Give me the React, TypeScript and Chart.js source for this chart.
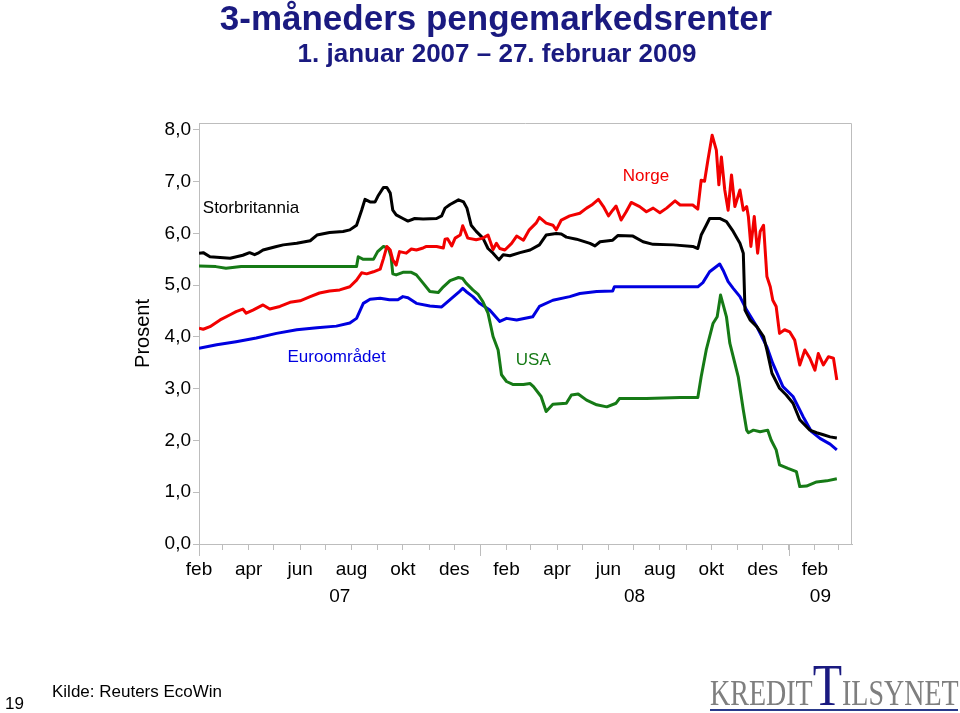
import React, { useEffect, useRef } from 'react';
import { Chart, registerables } from 'chart.js';

Chart.register(...registerables);

// x values are day offsets counted from 1 Feb 2007 (left edge of the plot)
const START_UTC = Date.UTC(2007, 1, 1);
const X_MAX_DAY = 775;

const MONTH_NAMES = ['jan', 'feb', 'mar', 'apr', 'mai', 'jun', 'jul', 'aug', 'sep', 'okt', 'nov', 'des'];
const YEARS = [2007, 2008, 2009];
const YEAR_LABELS = ['07', '08', '09'];
const Y_TICKS = [0, 1, 2, 3, 4, 5, 6, 7, 8];

// Norge (NIBOR 3m)
const NO_DAYS = [0, 5, 13, 25, 37, 44, 52, 56, 64, 76, 84, 96, 108, 120, 132, 143, 155, 167, 179, 187, 193, 199, 207, 215, 219, 223, 227, 230, 234, 238, 246, 252, 258, 266, 270, 282, 290, 292, 295, 300, 304, 310, 313, 319, 329, 337, 343, 349, 353, 357, 363, 371, 377, 385, 392, 400, 404, 412, 420, 424, 430, 440, 452, 460, 466, 474, 480, 486, 491, 495, 501, 507, 513, 523, 531, 539, 547, 555, 565, 571, 579, 586, 592, 596, 600, 604, 609, 614, 617, 620, 624, 628, 632, 636, 642, 646, 650, 652, 655, 659, 663, 666, 670, 674, 678, 681, 685, 689, 695, 701, 707, 713, 719, 725, 731, 735, 741, 747, 753, 757];
const NO_VALUES = [4.17, 4.15, 4.20, 4.33, 4.43, 4.49, 4.54, 4.46, 4.52, 4.62, 4.54, 4.59, 4.67, 4.70, 4.78, 4.85, 4.89, 4.91, 4.97, 5.10, 5.24, 5.22, 5.26, 5.31, 5.52, 5.75, 5.68, 5.49, 5.39, 5.65, 5.62, 5.70, 5.68, 5.72, 5.75, 5.75, 5.72, 5.89, 5.90, 5.76, 5.91, 5.97, 6.15, 5.91, 5.88, 5.91, 5.97, 5.69, 5.81, 5.71, 5.68, 5.81, 5.95, 5.87, 6.07, 6.20, 6.31, 6.20, 6.16, 6.07, 6.26, 6.34, 6.39, 6.49, 6.55, 6.66, 6.52, 6.34, 6.45, 6.53, 6.26, 6.42, 6.60, 6.52, 6.42, 6.49, 6.40, 6.49, 6.63, 6.55, 6.55, 6.55, 6.47, 7.03, 7.01, 7.42, 7.90, 7.61, 6.94, 7.48, 6.84, 6.45, 7.13, 6.52, 6.84, 6.45, 6.52, 6.33, 5.75, 6.33, 5.62, 6.04, 6.16, 5.17, 4.97, 4.71, 4.59, 4.07, 4.14, 4.10, 3.94, 3.46, 3.75, 3.59, 3.36, 3.68, 3.46, 3.62, 3.59, 3.17];

// Storbritannia
const UK_DAYS = [0, 5, 13, 21, 37, 52, 60, 66, 70, 76, 92, 100, 116, 132, 140, 155, 171, 179, 187, 193, 197, 203, 209, 213, 219, 223, 227, 230, 234, 242, 248, 256, 266, 282, 288, 292, 298, 308, 314, 318, 323, 329, 337, 343, 349, 356, 361, 369, 381, 393, 404, 412, 424, 430, 436, 448, 464, 470, 476, 491, 497, 515, 527, 539, 563, 586, 592, 596, 602, 606, 618, 626, 634, 642, 646, 648, 654, 662, 670, 674, 680, 689, 697, 705, 713, 725, 733, 741, 749, 757];
const UK_VALUES = [5.62, 5.63, 5.55, 5.54, 5.52, 5.58, 5.63, 5.59, 5.62, 5.68, 5.75, 5.78, 5.81, 5.86, 5.97, 6.02, 6.04, 6.07, 6.16, 6.45, 6.66, 6.61, 6.61, 6.74, 6.89, 6.89, 6.78, 6.45, 6.36, 6.29, 6.24, 6.29, 6.28, 6.29, 6.34, 6.49, 6.56, 6.65, 6.61, 6.49, 6.16, 6.04, 5.91, 5.71, 5.62, 5.49, 5.59, 5.57, 5.63, 5.68, 5.78, 5.97, 6.00, 5.99, 5.93, 5.89, 5.81, 5.76, 5.84, 5.87, 5.96, 5.95, 5.84, 5.79, 5.78, 5.75, 5.71, 5.97, 6.16, 6.29, 6.29, 6.23, 6.04, 5.81, 5.62, 4.52, 4.33, 4.20, 4.01, 3.75, 3.30, 3.01, 2.88, 2.72, 2.40, 2.20, 2.15, 2.11, 2.07, 2.05];

// USA
const US_DAYS = [0, 20, 32, 50, 100, 150, 187, 189, 195, 207, 212, 219, 225, 228, 230, 234, 242, 252, 258, 266, 274, 284, 290, 298, 308, 313, 317, 325, 331, 337, 343, 349, 355, 359, 365, 373, 385, 393, 397, 406, 412, 420, 436, 442, 450, 460, 472, 484, 495, 499, 531, 571, 592, 596, 602, 610, 615, 619, 626, 630, 636, 640, 646, 650, 652, 658, 666, 675, 679, 685, 689, 699, 709, 713, 721, 733, 745, 757];
const US_VALUES = [5.37, 5.36, 5.33, 5.36, 5.36, 5.36, 5.36, 5.55, 5.50, 5.50, 5.65, 5.75, 5.71, 5.55, 5.22, 5.20, 5.25, 5.25, 5.20, 5.04, 4.88, 4.86, 4.97, 5.09, 5.15, 5.13, 5.04, 4.91, 4.83, 4.68, 4.46, 4.01, 3.75, 3.27, 3.14, 3.08, 3.08, 3.10, 3.04, 2.85, 2.56, 2.70, 2.72, 2.88, 2.90, 2.78, 2.69, 2.65, 2.72, 2.81, 2.81, 2.83, 2.83, 3.23, 3.75, 4.26, 4.39, 4.81, 4.39, 3.88, 3.49, 3.23, 2.59, 2.20, 2.15, 2.20, 2.17, 2.20, 2.01, 1.82, 1.53, 1.46, 1.40, 1.11, 1.12, 1.20, 1.22, 1.26];

// Euroområdet
const EU_DAYS = [0, 21, 44, 68, 92, 116, 140, 163, 179, 187, 195, 203, 215, 226, 236, 242, 248, 258, 274, 288, 298, 308, 313, 317, 325, 333, 345, 357, 365, 377, 396, 404, 420, 440, 452, 472, 491, 493, 531, 571, 592, 598, 606, 618, 622, 628, 634, 642, 650, 662, 674, 681, 693, 705, 717, 727, 737, 749, 757];
const EU_VALUES = [3.78, 3.85, 3.91, 3.98, 4.07, 4.14, 4.18, 4.21, 4.27, 4.36, 4.65, 4.73, 4.75, 4.72, 4.72, 4.78, 4.76, 4.65, 4.60, 4.58, 4.72, 4.86, 4.94, 4.88, 4.78, 4.65, 4.52, 4.30, 4.36, 4.33, 4.39, 4.59, 4.71, 4.78, 4.84, 4.88, 4.89, 4.97, 4.97, 4.97, 4.97, 5.05, 5.26, 5.41, 5.29, 5.07, 4.94, 4.78, 4.52, 4.20, 3.81, 3.49, 3.04, 2.85, 2.46, 2.17, 2.04, 1.93, 1.82];

const FONT = "'Liberation Sans', Arial, Helvetica, sans-serif";
const SERIF = "'Liberation Serif', 'Times New Roman', serif";
const NAVY = '#1a1a80';
const AXIS_COLOR = '#bdbdbd';
const C_NO = '#f20000';
const C_UK = '#000000';
const C_US = '#167a16';
const C_EU = '#0000e0';

const SERIES_LABELS = [
  { text: 'Storbritannia', day: 4.5, value: 6.49, color: C_UK },
  { text: 'Norge', day: 503, value: 7.11, color: C_NO },
  { text: 'Euroområdet', day: 105, value: 3.61, color: C_EU },
  { text: 'USA', day: 376, value: 3.54, color: C_US },
];

const dayOf = (y: number, m: number, d = 1) => (Date.UTC(y, m, d) - START_UTC) / 86400000;

const MONTH_TICKS: { value: number; label: string }[] = [];
YEARS.forEach((y) => {
  for (let m = 0; m < 12; m++) {
    const v = dayOf(y, m);
    if (v >= 0 && v <= X_MAX_DAY) MONTH_TICKS.push({ value: v, label: m % 2 === 1 ? MONTH_NAMES[m] : '' });
  }
});

const pts = (days: number[], vals: number[]) => days.map((d, i) => ({ x: d, y: vals[i] }));

const decorPlugin = {
  id: 'decor',
  afterDraw(chart: any) {
    const { ctx, chartArea, scales } = chart;
    const x = scales.x;
    const y = scales.y;
    ctx.save();
    // top and right frame of the plot area
    ctx.strokeStyle = AXIS_COLOR;
    ctx.lineWidth = 1;
    ctx.beginPath();
    ctx.moveTo(Math.round(chartArea.left) + 0.5, Math.round(chartArea.top) + 0.5);
    ctx.lineTo(Math.round(chartArea.right) - 0.5, Math.round(chartArea.top) + 0.5);
    ctx.lineTo(Math.round(chartArea.right) - 0.5, Math.round(chartArea.bottom));
    ctx.stroke();
    // long ticks at year boundaries
    const bounds = [0, ...YEARS.slice(1).map((yr) => dayOf(yr, 0))];
    bounds.forEach((d) => {
      const px = Math.round(x.getPixelForValue(d)) + 0.5;
      ctx.beginPath();
      ctx.moveTo(px, chartArea.bottom);
      ctx.lineTo(px, chartArea.bottom + 12);
      ctx.stroke();
    });
    // year labels centred in each year's span
    ctx.fillStyle = '#000';
    ctx.font = `19px ${FONT}`;
    ctx.textAlign = 'center';
    ctx.textBaseline = 'alphabetic';
    YEARS.forEach((yr, i) => {
      const a = Math.max(0, dayOf(yr, 0));
      const b = Math.min(X_MAX_DAY, dayOf(yr + 1, 0));
      const px = x.getPixelForValue((a + b) / 2);
      ctx.fillText(YEAR_LABELS[i], px, chartArea.bottom + 58);
    });
    // series labels
    ctx.font = `17px ${FONT}`;
    ctx.textAlign = 'left';
    ctx.textBaseline = 'middle';
    SERIES_LABELS.forEach((l) => {
      ctx.fillStyle = l.color;
      ctx.fillText(l.text, x.getPixelForValue(l.day), y.getPixelForValue(l.value));
    });
    ctx.restore();
  },
};

export default function App() {
  const ref = useRef<HTMLCanvasElement>(null);

  useEffect(() => {
    document.body.style.margin = '0';
    const line = (data: any, color: string) => ({
      data,
      borderColor: color,
      backgroundColor: color,
      borderWidth: 3,
      pointRadius: 0,
      tension: 0,
      fill: false,
      borderJoinStyle: 'round' as const,
    });
    const chart = new Chart(ref.current as HTMLCanvasElement, {
      type: 'line',
      data: {
        datasets: [
          { label: 'Norge', ...line(pts(NO_DAYS, NO_VALUES), C_NO) },
          { label: 'Storbritannia', ...line(pts(UK_DAYS, UK_VALUES), C_UK) },
          { label: 'USA', ...line(pts(US_DAYS, US_VALUES), C_US) },
          { label: 'Euroområdet', ...line(pts(EU_DAYS, EU_VALUES), C_EU) },
        ],
      },
      options: {
        animation: false,
        responsive: false,
        maintainAspectRatio: false,
        layout: { padding: { left: 127, top: 123, right: 108, bottom: 0 } },
        plugins: { legend: { display: false }, tooltip: { enabled: false }, title: { display: false } },
        scales: {
          x: {
            type: 'linear',
            min: 0,
            max: X_MAX_DAY,
            afterBuildTicks: (s: any) => {
              s.ticks = MONTH_TICKS.map((t) => ({ value: t.value }));
            },
            afterFit: (s: any) => {
              s.height = 169;
            },
            ticks: {
              autoSkip: false,
              maxRotation: 0,
              minRotation: 0,
              padding: 8,
              color: '#000',
              font: { family: FONT, size: 19 },
              callback: (_v: any, i: number) => MONTH_TICKS[i]?.label ?? '',
            },
            grid: { drawOnChartArea: false, drawTicks: true, tickLength: 6, color: AXIS_COLOR },
            border: { color: AXIS_COLOR },
          },
          y: {
            type: 'linear',
            min: 0,
            max: 8.135,
            afterBuildTicks: (s: any) => {
              s.ticks = Y_TICKS.map((v) => ({ value: v }));
            },
            afterFit: (s: any) => {
              s.width = 72;
            },
            ticks: {
              padding: 2,
              color: '#000',
              font: { family: FONT, size: 19 },
              callback: (v: any) => Number(v).toFixed(1).replace('.', ','),
            },
            grid: { drawOnChartArea: false, drawTicks: true, tickLength: 6, color: AXIS_COLOR },
            border: { color: AXIS_COLOR },
            title: { display: true, text: 'Prosent', color: '#000', font: { family: FONT, size: 20 }, padding: { top: 4, bottom: 4 } },
          },
        },
      },
      plugins: [decorPlugin],
    });
    return () => chart.destroy();
  }, []);

  return (
    <div style={{ position: 'relative', width: 960, height: 713, overflow: 'hidden', background: '#fff', fontFamily: FONT }}>
      <canvas ref={ref} width={960} height={713} style={{ position: 'absolute', left: 0, top: 0, width: 960, height: 713 }} />
      <div style={{ position: 'absolute', left: 496, top: 0, transform: 'translateX(-50%)', whiteSpace: 'nowrap', color: NAVY, fontWeight: 'bold', fontSize: 35, lineHeight: 1 }}>
        3-måneders pengemarkedsrenter
      </div>
      <div style={{ position: 'absolute', left: 497, top: 40, transform: 'translateX(-50%)', whiteSpace: 'nowrap', color: NAVY, fontWeight: 'bold', fontSize: 26, lineHeight: 1 }}>
        1. januar 2007 – 27. februar 2009
      </div>
      <div style={{ position: 'absolute', left: 5, top: 695, fontSize: 17, lineHeight: 1, color: '#000' }}>19</div>
      <div style={{ position: 'absolute', left: 52, top: 683, fontSize: 17, lineHeight: 1, color: '#000', whiteSpace: 'nowrap' }}>Kilde: Reuters EcoWin</div>
      <div style={{ position: 'absolute', left: 710, top: 655, display: 'flex', alignItems: 'baseline', transform: 'scaleX(0.8)', transformOrigin: 'left top', fontFamily: SERIF, whiteSpace: 'nowrap' }}>
        <span style={{ fontSize: 35, lineHeight: 1, color: '#7f7f7f' }}>KREDIT</span>
        <span style={{ fontSize: 60, lineHeight: 1, color: NAVY }}>T</span>
        <span style={{ fontSize: 35, lineHeight: 1, color: '#7f7f7f' }}>ILSYNET</span>
      </div>
      <div style={{ position: 'absolute', left: 710, top: 709, width: 248, height: 2, background: '#2a3a8a' }} />
    </div>
  );
}
